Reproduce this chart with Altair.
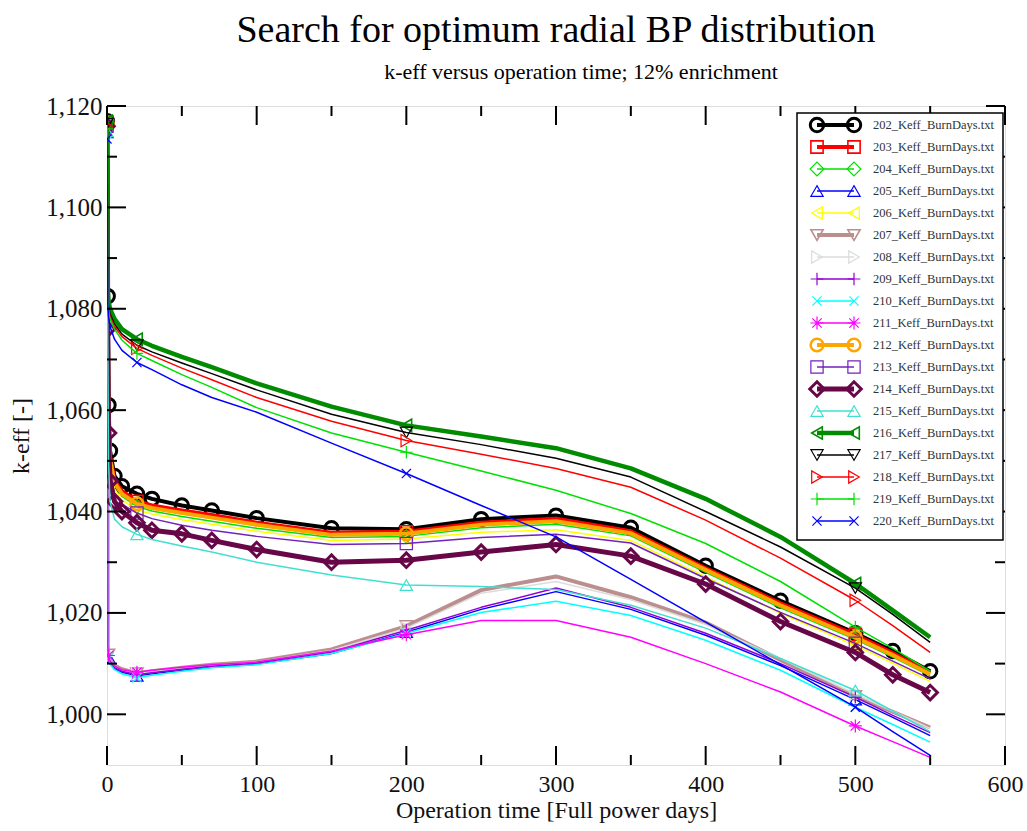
import altair as alt
import pandas as pd

# Burn-up steps (full power days)
DAYS = [0, 0.5, 1, 2, 5, 10, 20, 30, 50, 70, 100, 150, 200, 250, 300, 350, 400, 450, 500, 525, 550]

# k-eff per configuration
K202 = [1.1170, 1.0825, 1.0610, 1.0520, 1.0470, 1.0450, 1.0435, 1.0425, 1.0412, 1.0402, 1.0387, 1.0367, 1.0365, 1.0385, 1.0392, 1.0368, 1.0293, 1.0224, 1.0160, 1.0125, 1.0085]
K203 = [1.1168, 1.0818, 1.0600, 1.0510, 1.0462, 1.0440, 1.0420, 1.0412, 1.0402, 1.0393, 1.0378, 1.0358, 1.0360, 1.0378, 1.0386, 1.0361, 1.0288, 1.0219, 1.0157, 1.0121, 1.0082]
K204 = [1.1166, 1.0810, 1.0588, 1.0498, 1.0452, 1.0430, 1.0410, 1.0401, 1.0390, 1.0381, 1.0367, 1.0349, 1.0351, 1.0368, 1.0375, 1.0352, 1.0280, 1.0210, 1.0148, 1.0113, 1.0076]
K205 = [1.1148, 1.0130, 1.0113, 1.0100, 1.0090, 1.0083, 1.0076, 1.0080, 1.0087, 1.0093, 1.0099, 1.0120, 1.0162, 1.0207, 1.0242, 1.0207, 1.0156, 1.0096, 1.0029, 0.9994, 0.9958]
K206 = [1.1163, 1.0805, 1.0580, 1.0490, 1.0445, 1.0423, 1.0403, 1.0395, 1.0384, 1.0375, 1.0361, 1.0343, 1.0346, 1.0359, 1.0364, 1.0343, 1.0271, 1.0199, 1.0136, 1.0101, 1.0065]
K207 = [1.1155, 1.0134, 1.0118, 1.0106, 1.0096, 1.0089, 1.0081, 1.0085, 1.0092, 1.0098, 1.0104, 1.0128, 1.0174, 1.0245, 1.0272, 1.0231, 1.0181, 1.0107, 1.0036, 1.0005, 0.9974]
K208 = [1.1152, 1.0133, 1.0117, 1.0104, 1.0094, 1.0087, 1.0080, 1.0084, 1.0091, 1.0097, 1.0103, 1.0126, 1.0170, 1.0239, 1.0262, 1.0226, 1.0177, 1.0110, 1.0040, 1.0006, 0.9972]
K209 = [1.1150, 1.0131, 1.0116, 1.0102, 1.0092, 1.0085, 1.0078, 1.0082, 1.0089, 1.0095, 1.0101, 1.0123, 1.0166, 1.0211, 1.0249, 1.0211, 1.0160, 1.0100, 1.0034, 0.9998, 0.9964]
K210 = [1.1145, 1.0128, 1.0112, 1.0099, 1.0088, 1.0080, 1.0072, 1.0077, 1.0085, 1.0092, 1.0098, 1.0120, 1.0160, 1.0201, 1.0223, 1.0195, 1.0146, 1.0087, 1.0014, 0.9980, 0.9945]
K211 = [1.1150, 1.0132, 1.0116, 1.0105, 1.0095, 1.0088, 1.0083, 1.0087, 1.0093, 1.0098, 1.0103, 1.0125, 1.0157, 1.0185, 1.0185, 1.0152, 1.0100, 1.0044, 0.9977, 0.9946, 0.9915]
K212 = [1.1167, 1.0814, 1.0594, 1.0504, 1.0457, 1.0435, 1.0415, 1.0407, 1.0397, 1.0388, 1.0374, 1.0354, 1.0356, 1.0374, 1.0381, 1.0357, 1.0285, 1.0215, 1.0152, 1.0117, 1.0079]
K213 = [1.1160, 1.0798, 1.0570, 1.0480, 1.0436, 1.0414, 1.0397, 1.0386, 1.0373, 1.0363, 1.0351, 1.0335, 1.0337, 1.0349, 1.0355, 1.0338, 1.0268, 1.0201, 1.0140, 1.0105, 1.0070]
K214 = [1.1160, 1.0760, 1.0555, 1.0460, 1.0420, 1.0400, 1.0378, 1.0363, 1.0356, 1.0343, 1.0325, 1.0300, 1.0304, 1.0320, 1.0335, 1.0312, 1.0257, 1.0183, 1.0122, 1.0078, 1.0043]
K215 = [1.1150, 1.0740, 1.0500, 1.0420, 1.0385, 1.0370, 1.0355, 1.0345, 1.0332, 1.0320, 1.0300, 1.0275, 1.0255, 1.0252, 1.0246, 1.0215, 1.0170, 1.0110, 1.0047, 1.0006, 0.9966]
K216 = [1.1170, 1.0840, 1.0815, 1.0800, 1.0780, 1.0760, 1.0740, 1.0727, 1.0705, 1.0685, 1.0653, 1.0607, 1.0570, 1.0548, 1.0525, 1.0485, 1.0425, 1.0350, 1.0258, 1.0205, 1.0152]
K217 = [1.1165, 1.0830, 1.0805, 1.0790, 1.0770, 1.0750, 1.0728, 1.0715, 1.0693, 1.0672, 1.0640, 1.0592, 1.0556, 1.0532, 1.0505, 1.0468, 1.0400, 1.0330, 1.0249, 1.0197, 1.0142]
K218 = [1.1160, 1.0825, 1.0800, 1.0785, 1.0765, 1.0745, 1.0722, 1.0708, 1.0683, 1.0660, 1.0625, 1.0578, 1.0540, 1.0513, 1.0485, 1.0448, 1.0383, 1.0308, 1.0225, 1.0175, 1.0122]
K219 = [1.1155, 1.0820, 1.0795, 1.0780, 1.0760, 1.0738, 1.0712, 1.0698, 1.0670, 1.0645, 1.0605, 1.0555, 1.0517, 1.0480, 1.0442, 1.0396, 1.0337, 1.0262, 1.0172, 1.0130, 1.0085]
K220 = [1.1135, 1.0810, 1.0785, 1.0765, 1.0740, 1.0718, 1.0694, 1.0680, 1.0650, 1.0625, 1.0596, 1.0535, 1.0475, 1.0412, 1.0350, 1.0266, 1.0182, 1.0098, 1.0014, 0.9966, 0.9919]

KEFF = [K202, K203, K204, K205, K206, K207, K208, K209, K210, K211,
        K212, K213, K214, K215, K216, K217, K218, K219, K220]
SERIES = [f"{n}_Keff_BurnDays.txt" for n in range(202, 221)]

# Days at which each set shows its symbol (None = every point)
SPARSE = [0, 20, 200, 500]
SPARSE_LOW = [0, 1, 20, 200, 500]
MARK_DAYS = [None, SPARSE, SPARSE, SPARSE_LOW, SPARSE, SPARSE_LOW, SPARSE_LOW, SPARSE_LOW,
             SPARSE_LOW, SPARSE_LOW, SPARSE, SPARSE, None, SPARSE, SPARSE, SPARSE, SPARSE,
             SPARSE, SPARSE]

X_MAJOR = [0, 100, 200, 300, 400, 500, 600]
X_MINOR = [50, 150, 250, 350, 450, 550]
Y_MAJOR = [1.00, 1.02, 1.04, 1.06, 1.08, 1.10, 1.12]
Y_MINOR = [1.01, 1.03, 1.05, 1.07, 1.09, 1.11]

TITLE = "Search for optimum radial BP distribution"
SUBTITLE = "k-eff versus operation time; 12% enrichment"
X_TITLE = "Operation time [Full power days]"
Y_TITLE = "k-eff [-]"

# ---- styling (Grace-like palette and symbols) ----
PLUS = "M-1,0L1,0M0,-1L0,1"
CROSS = "M-0.8,-0.8L0.8,0.8M-0.8,0.8L0.8,-0.8"
STAR = "M-1,0L1,0M0,-1L0,1M-0.72,-0.72L0.72,0.72M-0.72,0.72L0.72,-0.72"
BASE_SHAPES = ["circle", "square", "diamond", "triangle-up", "triangle-left",
               "triangle-down", "triangle-right", PLUS, CROSS, STAR]
SHAPES = [BASE_SHAPES[i % 10] for i in range(19)]
COLORS = ["#000000", "#ff0000", "#00e000", "#0000ff", "#ffff00", "#bc8f8f", "#dcdcdc",
          "#9400d3", "#00ffff", "#ff00ff", "#ffa500", "#7221bc", "#670748", "#40e0d0",
          "#008b00", "#000000", "#ff0000", "#00e000", "#0000ff"]
LINE_W = [4, 4, 1.5, 1.5, 1.5, 4, 1.5, 1.5, 1.5, 1.5, 4, 1.5, 5, 1.5, 4.5, 1.5, 1.5, 1.5, 1.5]
MARK_W = [3, 1.6, 1.2, 1.2, 1.2, 1.6, 1.2, 1.2, 1.2, 1.2, 2.5, 1.2, 3, 1.2, 1.6, 1.2, 1.2, 1.2, 1.2]
MARK_SIZE = [180, 150, 190, 150, 150, 150, 150, 160, 130, 170, 160, 150, 210, 150, 150, 150, 150, 160, 130]

SERIF = "Liberation Serif"
W, H = 898, 659
MAJ, MIN = 19, 10

rows = []
for i, name in enumerate(SERIES):
    for d, k in zip(DAYS, KEFF[i]):
        marked = MARK_DAYS[i] is None or d in MARK_DAYS[i]
        rows.append({"series": name, "day": d, "keff": k, "marked": marked})
df = pd.DataFrame(rows)

xs = alt.Scale(domain=[0, 600], nice=False, zero=False)
ys = alt.Scale(domain=[0.99, 1.12], nice=False, zero=False)

X_AXIS = alt.Axis(values=X_MAJOR, format="d", ticks=False, domain=False, grid=False,
                  labelFont=SERIF, labelFontSize=24, labelColor="#111", labelPadding=7,
                  labelFlush=False, labelOverlap=False,
                  title=X_TITLE, titleFont=SERIF, titleFontSize=24, titleFontWeight="normal",
                  titleColor="#111", titlePadding=2)
Y_AXIS = alt.Axis(values=Y_MAJOR, labelExpr="replace(format(datum.value, '.3f'), '.', ',')",
                  ticks=False, domain=False, grid=False,
                  labelFont=SERIF, labelFontSize=25, labelColor="#111", labelPadding=5,
                  labelFlush=False, labelOverlap=False,
                  title=Y_TITLE, titleFont=SERIF, titleFontSize=24, titleFontWeight="normal",
                  titleColor="#111", titlePadding=12)

X = alt.X("day:Q", scale=xs, axis=X_AXIS)
Y = alt.Y("keff:Q", scale=ys, axis=Y_AXIS)

main_layers = []
for i, name in enumerate(SERIES):
    sub = alt.Chart(df).transform_filter(alt.datum.series == name)
    main_layers.append(
        sub.mark_line(color=COLORS[i], strokeWidth=LINE_W[i], clip=True,
                      strokeJoin="round").encode(x=X, y=Y)
    )
    main_layers.append(
        sub.transform_filter(alt.datum.marked).mark_point(
            shape=SHAPES[i], size=MARK_SIZE[i], color=COLORS[i], filled=False,
            strokeWidth=MARK_W[i], opacity=1, clip=True).encode(x=X, y=Y)
    )

# inward ticks on all four sides
def xticks(vals, length):
    src = alt.Chart(pd.DataFrame({"day": vals}))
    xe = alt.X("day:Q", scale=xs, axis=X_AXIS)
    bottom = src.mark_rule(color="black", strokeWidth=2).encode(
        x=xe, y=alt.value(H), y2=alt.value(H - length))
    top = src.mark_rule(color="black", strokeWidth=2).encode(
        x=xe, y=alt.value(0), y2=alt.value(length))
    return [bottom, top]

def yticks(vals, length):
    src = alt.Chart(pd.DataFrame({"keff": vals}))
    ye = alt.Y("keff:Q", scale=ys, axis=Y_AXIS)
    left = src.mark_rule(color="black", strokeWidth=2).encode(
        y=ye, x=alt.value(0), x2=alt.value(length))
    right = src.mark_rule(color="black", strokeWidth=2).encode(
        y=ye, x=alt.value(W), x2=alt.value(W - length))
    return [left, right]

tick_layers = xticks(X_MAJOR, MAJ) + xticks(X_MINOR, MIN) + yticks(Y_MAJOR, MAJ) + yticks(Y_MINOR, MIN)

main = alt.layer(*main_layers, *tick_layers)

# ---- legend box (top right, inside the frame) ----
LX = alt.Scale(domain=[0, 1], range=[710, 747])
LY = alt.Scale(domain=[0, 18], range=[19, 415])
leg_rows = []
for r, name in enumerate(SERIES):
    for p in (0, 1):
        leg_rows.append({"series": name, "row": r, "pos": p})
leg_df = pd.DataFrame(leg_rows)
LXe = alt.X("pos:Q", scale=LX, axis=None)
LYe = alt.Y("row:Q", scale=LY, axis=None)

one = pd.DataFrame({"b": [0]})
legend_layers = [
    alt.Chart(one).mark_rect(fill="white", stroke="black", strokeWidth=1.5).encode(
        x=alt.value(690), x2=alt.value(896), y=alt.value(7), y2=alt.value(434))
]
for i, name in enumerate(SERIES):
    sub = alt.Chart(leg_df).transform_filter(alt.datum.series == name)
    legend_layers.append(sub.mark_line(color=COLORS[i], strokeWidth=LINE_W[i]).encode(x=LXe, y=LYe))
    legend_layers.append(sub.mark_point(shape=SHAPES[i], size=MARK_SIZE[i], color=COLORS[i],
                                        filled=False, strokeWidth=MARK_W[i], opacity=1)
                         .encode(x=LXe, y=LYe))
label_df = pd.DataFrame({"series": SERIES, "row": list(range(len(SERIES)))})
legend_layers.append(
    alt.Chart(label_df).mark_text(align="left", baseline="middle", font=SERIF,
                                  fontSize=12.5, color="#333").encode(
        x=alt.value(766), y=LYe, text="series:N")
)

# title and subtitle above the frame
legend_layers.append(
    alt.Chart(one).mark_text(text=TITLE, font=SERIF, fontSize=38, color="black",
                             align="center", baseline="alphabetic").encode(
        x=alt.value(W / 2), y=alt.value(-64))
)
legend_layers.append(
    alt.Chart(one).mark_text(text=SUBTITLE, font=SERIF, fontSize=22, color="black",
                             align="center", baseline="alphabetic").encode(
        x=alt.value(W / 2 + 25), y=alt.value(-27))
)
legend = alt.layer(*legend_layers)

chart = alt.layer(main, legend).resolve_scale(x="independent", y="independent").properties(
    width=W, height=H,
    padding={"left": 107, "top": 106, "right": 22, "bottom": 66},
    autosize=alt.AutoSizeParams(type="none"),
).configure_view(stroke="black", strokeWidth=2).configure(background="white")

chart.save("out.html", embed_options={"renderer": "svg", "actions": False})
